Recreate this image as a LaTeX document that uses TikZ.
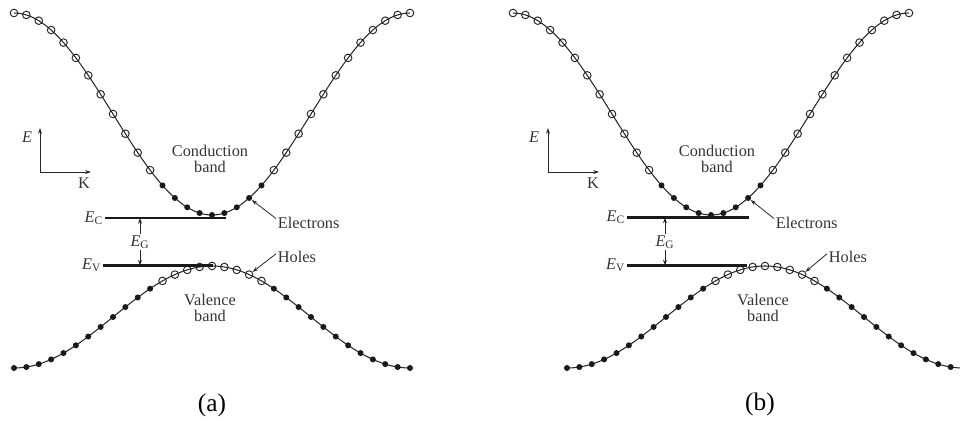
\documentclass[tikz,border=0pt]{standalone}
\usepackage{fontspec}
\setmainfont{Liberation Serif}
\usetikzlibrary{arrows.meta}
\newcommand{\Elev}[1]{\textit{E}\textsubscript{#1}}

\begin{document}
\begin{tikzpicture}[x=0.0222cm,y=-0.0222cm,
band/.style={draw=black!85,line width=0.65pt},
full/.style={circle,fill=black!90,inner sep=0pt,minimum size=3.8pt},
empty/.style={circle,draw=black!85,line width=0.6pt,inner sep=0pt,minimum size=4.8pt},
lvl/.style={draw=black!90,line width=1.3pt},
arr/.style={-{Stealth[length=3.6pt,width=2.4pt]},line width=0.5pt,draw=black!85},
lbl/.style={font=\fontsize{10.3}{10.6}\selectfont,align=center,inner sep=1pt,text=black!80},
captxt/.style={font=\fontsize{16}{18}\selectfont,inner sep=1pt}
]
\useasboundingbox (0,0) rectangle (960,423);

% Panel (a): direct gap
\draw[band] plot[domain=0:32,samples=129] ({14+12.375*\x},{13+101*(1-cos(180*\x/16))});
\foreach \i in {0,...,32}{
  \pgfmathsetmacro\xp{14+12.375*\i}
  \pgfmathsetmacro\yp{13+101*(1-cos(180*\i/16))}
  \ifnum\i>11 \ifnum\i<21 \def\st{full}\else\def\st{empty}\fi\else\def\st{empty}\fi
  \node[\st] (cA-\i) at (\xp,\yp) {};
}
\draw[band] plot[domain=0:32,samples=129] ({14+12.375*\x},{368-51*(1-cos(180*\x/16))});
\foreach \i in {0,...,32}{
  \pgfmathsetmacro\xp{14+12.375*\i}
  \pgfmathsetmacro\yp{368-51*(1-cos(180*\i/16))}
  \ifnum\i>11 \ifnum\i<21 \def\st{empty}\else\def\st{full}\fi\else\def\st{full}\fi
  \node[\st] (vA-\i) at (\xp,\yp) {};
}
\coordinate (ecA0) at (105,218);
\coordinate (ecA1) at (226,218);
\coordinate (evA0) at (103,265.5);
\coordinate (evA1) at (213,265.5);
\draw[lvl] (ecA0) -- (ecA1);
\draw[lvl] (evA0) -- (evA1);
\node[lbl,anchor=east] (lcA) at (ecA0) {\Elev{C}};
\node[lbl,anchor=east] (lvA) at (evA0) {\Elev{V}};
\node[lbl] (egA) at (140,242) {\Elev{G}};
\coordinate (gtA) at (140,218);
\coordinate (gbA) at (140,265.5);
\draw[arr] (egA.north) -- (gtA);
\draw[arr] (egA.south) -- (gbA);
\node[lbl] (cbA) at (210,159) {Conduction\\band};
\node[lbl] (vbA) at (210,308) {Valence\\band};
\node[lbl,anchor=west] (elA) at (276,223) {Electrons};
\node[lbl,anchor=west] (hoA) at (276,257) {Holes};
\draw[arr] ([yshift=-2pt]elA.north west) -- (cA-19);
\draw[arr] ([yshift=2pt]hoA.west) -- (vA-19);
\coordinate (oA) at (40,172);
\coordinate (uA) at (40,128);
\coordinate (rA) at (91,172);
\draw[arr] (oA) -- (uA);
\draw[arr] (oA) -- (rA);
\node[lbl] (eA) at (27,137) {\textit{E}};
\node[lbl] (kA) at (84,183) {K};
\node[captxt] (capA) at (212,405) {(a)};

% Panel (b): valence maximum shifted
\draw[band] plot[domain=0:32,samples=129] ({513+12.375*\x},{13+101*(1-cos(180*\x/16))});
\foreach \i in {0,...,32}{
  \pgfmathsetmacro\xp{513+12.375*\i}
  \pgfmathsetmacro\yp{13+101*(1-cos(180*\i/16))}
  \ifnum\i>11 \ifnum\i<21 \def\st{full}\else\def\st{empty}\fi\else\def\st{empty}\fi
  \node[\st] (cB-\i) at (\xp,\yp) {};
}
\draw[band] plot[domain=0:32,samples=129] ({567+12.375*\x},{368-51*(1-cos(180*\x/16))});
\foreach \i in {0,...,32}{
  \pgfmathsetmacro\xp{567+12.375*\i}
  \pgfmathsetmacro\yp{368-51*(1-cos(180*\i/16))}
  \ifnum\i>11 \ifnum\i<21 \def\st{empty}\else\def\st{full}\fi\else\def\st{full}\fi
  \node[\st] (vB-\i) at (\xp,\yp) {};
}
\coordinate (ecB0) at (627,217.5);
\coordinate (ecB1) at (749,217.5);
\coordinate (evB0) at (627,265.5);
\coordinate (evB1) at (747,265.5);
\draw[lvl] (ecB0) -- (ecB1);
\draw[lvl] (evB0) -- (evB1);
\node[lbl,anchor=east] (lcB) at (ecB0) {\Elev{C}};
\node[lbl,anchor=east] (lvB) at (evB0) {\Elev{V}};
\node[lbl] (egB) at (665,242) {\Elev{G}};
\coordinate (gtB) at (665,217.5);
\coordinate (gbB) at (665,265.5);
\draw[arr] (egB.north) -- (gtB);
\draw[arr] (egB.south) -- (gbB);
\node[lbl] (cbB) at (717,159) {Conduction\\band};
\node[lbl] (vbB) at (763,308) {Valence\\band};
\node[lbl,anchor=west] (elB) at (774,223) {Electrons};
\node[lbl,anchor=west] (hoB) at (827,257) {Holes};
\draw[arr] ([yshift=-2pt]elB.north west) -- (cB-19);
\draw[arr] ([yshift=2pt]hoB.west) -- (vB-19);
\coordinate (oB) at (548,172);
\coordinate (uB) at (548,128);
\coordinate (rB) at (599,172);
\draw[arr] (oB) -- (uB);
\draw[arr] (oB) -- (rB);
\node[lbl] (eB) at (534,137) {\textit{E}};
\node[lbl] (kB) at (593,183) {K};
\node[captxt] (capB) at (760,404) {(b)};
\end{tikzpicture}
\end{document}
